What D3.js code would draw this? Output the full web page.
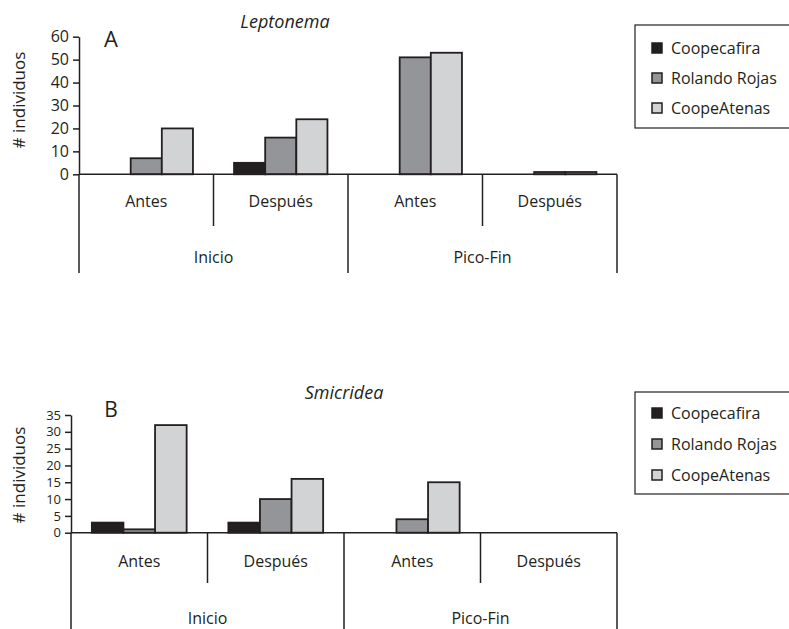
<!DOCTYPE html>
<html>
<head>
<meta charset="utf-8">
<script src="https://cdn.jsdelivr.net/npm/d3@7"></script>
<style>
    body { margin: 0; background: #fff; }
    svg { font-family: "Open Sans", sans-serif; }
</style>
</head>
<body>
<div id="chart"></div>
<script>
// data
const seriesNames = ["Coopecafira", "Rolando Rojas", "CoopeAtenas"]
const seriesColors = ["#231f20", "#939598", "#d1d3d4"]
const periods = ["Inicio", "Pico-Fin"]
const phases = ["Antes", "Después"]

// values in order: Inicio-Antes, Inicio-Después, Pico-Fin-Antes, Pico-Fin-Después
const leptonemaCoopecafira = [0, 5, 0, 0]
const leptonemaRolando = [7, 16, 51, 1]
const leptonemaAtenas = [20, 24, 53, 1]

const smicrideaCoopecafira = [3, 3, 0, 0]
const smicrideaRolando = [1, 10, 4, 0]
const smicrideaAtenas = [32, 16, 15, 0]

const leptonemaTicks = [0, 10, 20, 30, 40, 50, 60]
const smicrideaTicks = [0, 5, 10, 15, 20, 25, 30, 35]

const INK = "#231f20"

const svg = d3.select("#chart").append("svg")
    .attr("width", 789)
    .attr("height", 629)

function drawChart(cfg, series) {
    let g = svg.append("g")

    // one slot per period/phase pair
    let slots = []
    periods.forEach(p => phases.forEach(ph => slots.push(p + "|" + ph)))

    let x0 = d3.scaleBand()
        .domain(slots)
        .range([cfg.left, cfg.right])
        .padding(0)

    let x1 = d3.scaleBand()
        .domain(seriesNames)
        .range([0, x0.bandwidth()])
        .paddingInner(0)
        .paddingOuter(0.66)

    let y = d3.scaleLinear()
        .domain([0, cfg.max])
        .range([cfg.bottom, cfg.top])

    // bars
    let rows = []
    slots.forEach((s, i) => {
        seriesNames.forEach((name, j) => {
            rows.push({ slot: s, name: name, color: seriesColors[j], value: series[j][i] })
        })
    })

    g.selectAll(".bar")
        .data(rows.filter(d => d.value > 0))
        .enter().append("rect")
        .attr("class", "bar")
        .attr("x", d => x0(d.slot) + x1(d.name))
        .attr("width", x1.bandwidth())
        .attr("y", d => y(d.value))
        .attr("height", d => y(0) - y(d.value))
        .attr("fill", d => d.color)
        .attr("stroke", INK)
        .attr("stroke-width", 1.8)

    // y axis
    let yAxis = d3.axisLeft(y)
        .tickValues(cfg.ticks)
        .tickSize(6)
        .tickSizeOuter(0)
        .tickPadding(4)

    let ya = g.append("g")
        .attr("transform", "translate(" + cfg.left + ",0)")
        .call(yAxis)
    ya.selectAll("path, line").attr("stroke", INK).attr("stroke-width", 1.5)
    ya.selectAll("text")
        .attr("fill", INK)
        .style("font-size", cfg.tickFont + "px")
        .style("font-family", "Open Sans, sans-serif")

    // horizontal axis
    g.append("line")
        .attr("x1", cfg.left).attr("x2", cfg.right)
        .attr("y1", y(0)).attr("y2", y(0))
        .attr("stroke", INK).attr("stroke-width", 1.5)

    // dividers below the axis
    let bounds = x0.domain().map(s => x0(s)).concat([cfg.right])
    bounds.forEach((bx, i) => {
        let outer = i % 2 === 0
        g.append("line")
            .attr("x1", bx).attr("x2", bx)
            .attr("y1", y(0))
            .attr("y2", outer ? cfg.outerEnd : cfg.innerEnd)
            .attr("stroke", INK).attr("stroke-width", 1.5)
    })

    // phase labels
    g.selectAll(".phase")
        .data(slots)
        .enter().append("text")
        .attr("x", d => x0(d) + x0.bandwidth() / 2)
        .attr("y", cfg.phaseY)
        .attr("text-anchor", "middle")
        .attr("dominant-baseline", "central")
        .attr("fill", INK)
        .style("font-size", "16px")
        .text(d => d.split("|")[1])

    // period labels
    g.selectAll(".period")
        .data(periods)
        .enter().append("text")
        .attr("x", (d, i) => (x0(slots[i * 2]) + x0(slots[i * 2 + 1]) + x0.bandwidth()) / 2)
        .attr("y", cfg.periodY)
        .attr("text-anchor", "middle")
        .attr("dominant-baseline", "central")
        .attr("fill", INK)
        .style("font-size", "16px")
        .text(d => d)

    // axis title
    g.append("text")
        .attr("transform", "translate(18," + cfg.yTitleY + ") rotate(-90)")
        .attr("text-anchor", "middle")
        .attr("dominant-baseline", "central")
        .attr("fill", INK)
        .style("font-size", "17px")
        .text("# individuos")

    // title
    g.append("text")
        .attr("x", cfg.titleX)
        .attr("y", cfg.titleY)
        .attr("text-anchor", "middle")
        .attr("dominant-baseline", "central")
        .attr("fill", INK)
        .style("font-size", "18px")
        .style("font-style", "italic")
        .text(cfg.title)

    // panel letter
    g.append("text")
        .attr("x", 111)
        .attr("y", cfg.letterY)
        .attr("text-anchor", "middle")
        .attr("dominant-baseline", "central")
        .attr("fill", INK)
        .style("font-size", cfg.letterFont + "px")
        .text(cfg.letter)

    // legend
    let lg = g.append("g")
    lg.append("rect")
        .attr("x", 635).attr("y", cfg.legendTop)
        .attr("width", 160).attr("height", cfg.legendH)
        .attr("fill", "none")
        .attr("stroke", INK).attr("stroke-width", 1.2)

    seriesNames.forEach((name, j) => {
        let cy = cfg.legendTop + cfg.legendFirst + j * cfg.legendStep
        lg.append("rect")
            .attr("x", 652).attr("y", cy - 5)
            .attr("width", 10).attr("height", 10)
            .attr("fill", seriesColors[j])
            .attr("stroke", INK).attr("stroke-width", 1.5)
        lg.append("text")
            .attr("x", 671).attr("y", cy)
            .attr("dominant-baseline", "central")
            .attr("fill", INK)
            .style("font-size", "16px")
            .text(name)
    })
}

drawChart({
    left: 79, right: 617, top: 36.7, bottom: 174.3, max: 60,
    ticks: leptonemaTicks, tickFont: 16,
    phaseY: 201, innerEnd: 226, periodY: 257, outerEnd: 273,
    yTitleY: 100, title: "Leptonema", titleX: 285, titleY: 21,
    letter: "A", letterY: 38, letterFont: 22,
    legendTop: 25, legendH: 103, legendFirst: 23, legendStep: 30
}, [leptonemaCoopecafira, leptonemaRolando, leptonemaAtenas])

drawChart({
    left: 71, right: 617, top: 415, bottom: 532.7, max: 35,
    ticks: smicrideaTicks, tickFont: 13,
    phaseY: 561, innerEnd: 583, periodY: 618, outerEnd: 632,
    yTitleY: 475, title: "Smicridea", titleX: 344, titleY: 392,
    letter: "B", letterY: 409, letterFont: 21,
    legendTop: 392, legendH: 102, legendFirst: 21, legendStep: 31
}, [smicrideaCoopecafira, smicrideaRolando, smicrideaAtenas])
</script>
</body>
</html>
